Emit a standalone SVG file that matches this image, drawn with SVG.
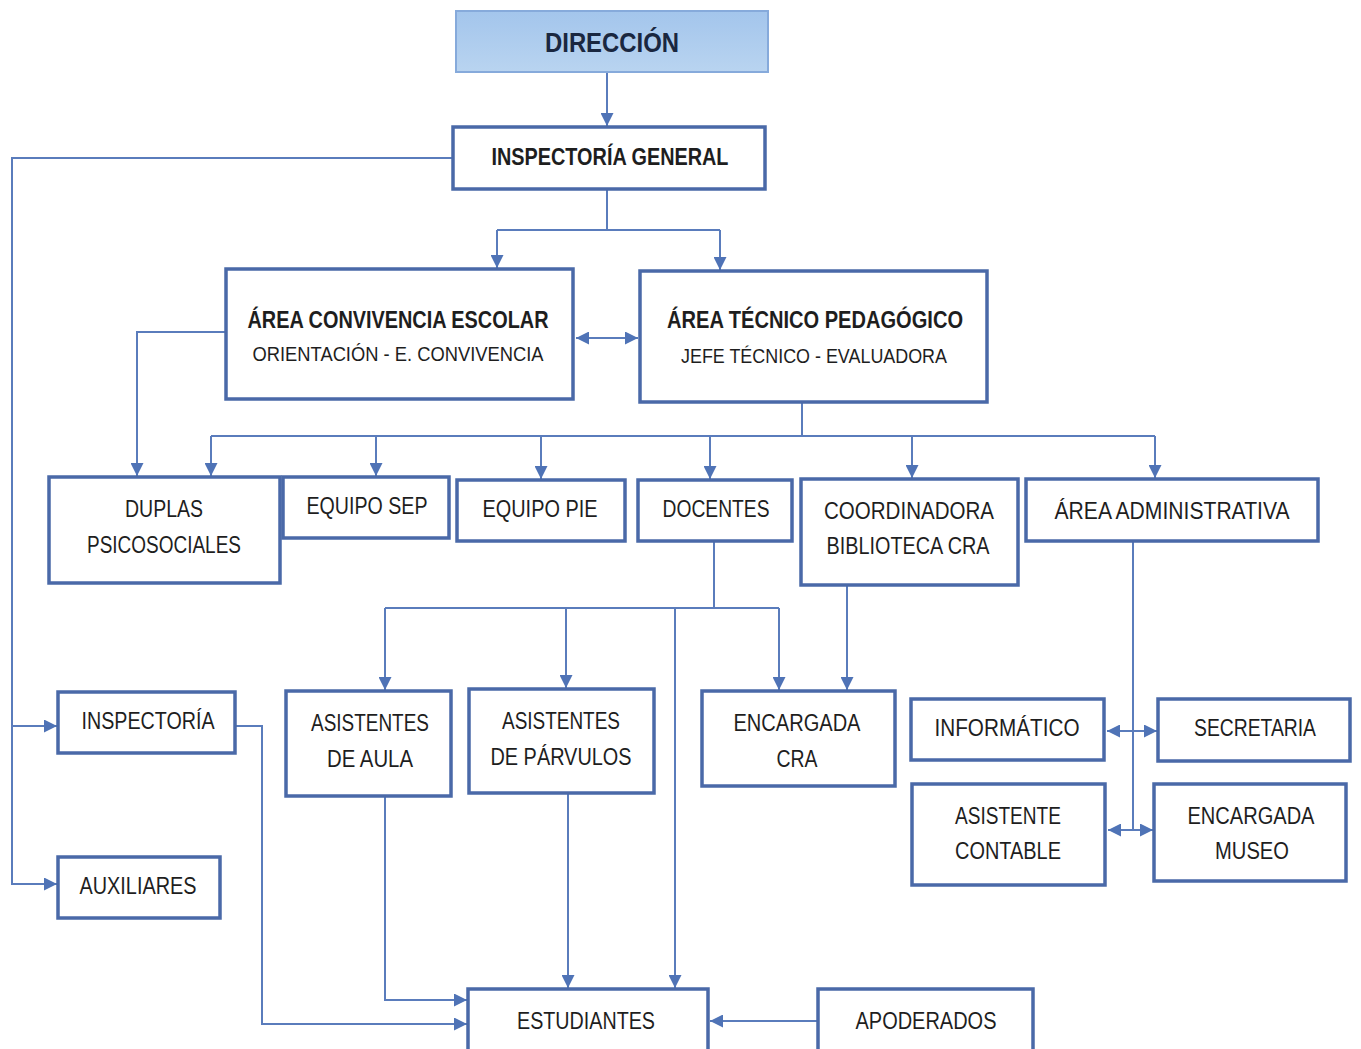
<svg xmlns="http://www.w3.org/2000/svg" width="1361" height="1049" viewBox="0 0 1361 1049">
<style>
.box{fill:#fff;stroke:#4a69a8;stroke-width:3.5}
.c{fill:none;stroke:#5a7cbc;stroke-width:2}
.t{font-family:"Liberation Sans Narrow","Liberation Sans",Arial,sans-serif;font-size:23px;fill:#1e1e1e;text-anchor:middle}
.b{font-weight:bold}
.s{font-size:20px}
</style>
<defs>
<linearGradient id="g" x1="0" y1="0" x2="0" y2="1"><stop offset="0" stop-color="#a3c5ec"/><stop offset="1" stop-color="#b9d4f0"/></linearGradient>
<marker id="a" viewBox="0 0 10 10" refX="10" refY="5" markerWidth="13" markerHeight="13" markerUnits="userSpaceOnUse" orient="auto-start-reverse"><path d="M0,0 L10,5 L0,10 z" fill="#4f73b6"/></marker>
</defs>
<rect width="1361" height="1049" fill="#fff"/>
<g id="connectors">
<path class="c" d="M607,72 V126" marker-end="url(#a)"/>
<path class="c" d="M453,158 H12 V884 H57" marker-end="url(#a)"/>
<path class="c" d="M12,726 H57" marker-end="url(#a)"/>
<path class="c" d="M607,189 V230 M497,230 H720"/>
<path class="c" d="M497,230 V268" marker-end="url(#a)"/>
<path class="c" d="M720,230 V270" marker-end="url(#a)"/>
<path class="c" d="M576,338 H638" marker-start="url(#a)" marker-end="url(#a)"/>
<path class="c" d="M226,332 H137 V476" marker-end="url(#a)"/>
<path class="c" d="M802,402 V436 M211,436 H1155"/>
<path class="c" d="M211,436 V476" marker-end="url(#a)"/>
<path class="c" d="M376,436 V476" marker-end="url(#a)"/>
<path class="c" d="M541,436 V479" marker-end="url(#a)"/>
<path class="c" d="M710,436 V479" marker-end="url(#a)"/>
<path class="c" d="M912,436 V478" marker-end="url(#a)"/>
<path class="c" d="M1155,436 V478" marker-end="url(#a)"/>
<path class="c" d="M714,541 V608 M385,608 H779"/>
<path class="c" d="M385,608 V690" marker-end="url(#a)"/>
<path class="c" d="M566,608 V688" marker-end="url(#a)"/>
<path class="c" d="M779,608 V690" marker-end="url(#a)"/>
<path class="c" d="M675,608 V988" marker-end="url(#a)"/>
<path class="c" d="M847,585 V690" marker-end="url(#a)"/>
<path class="c" d="M1133,541 V830"/>
<path class="c" d="M1107,731 H1157" marker-start="url(#a)" marker-end="url(#a)"/>
<path class="c" d="M1108,830 H1153" marker-start="url(#a)" marker-end="url(#a)"/>
<path class="c" d="M235,726 H262 V1024 H467" marker-end="url(#a)"/>
<path class="c" d="M385,796 V1000 H467" marker-end="url(#a)"/>
<path class="c" d="M568,793 V988" marker-end="url(#a)"/>
<path class="c" d="M818,1021 H710" marker-end="url(#a)"/>
</g>
<g id="direccion"><rect x="456" y="11" width="312" height="61" fill="url(#g)" stroke="#86aadb" stroke-width="2"/><text class="t b" x="612" y="52" style="font-size:27px;fill:#1a2740" textLength="134" lengthAdjust="spacingAndGlyphs">DIRECCIÓN</text></g>
<g id="inspectoria-general"><rect class="box" x="453" y="127" width="312" height="62"/><text class="t b" x="610" y="165" textLength="237" lengthAdjust="spacingAndGlyphs">INSPECTORÍA GENERAL</text></g>
<g id="area-convivencia"><rect class="box" x="226" y="269" width="347" height="130"/><text class="t b" x="398" y="328" textLength="301" lengthAdjust="spacingAndGlyphs">ÁREA CONVIVENCIA ESCOLAR</text><text class="t s" x="398" y="361" textLength="291" lengthAdjust="spacingAndGlyphs">ORIENTACIÓN - E. CONVIVENCIA</text></g>
<g id="area-tecnico"><rect class="box" x="640" y="271" width="347" height="131"/><text class="t b" x="815" y="328" textLength="296" lengthAdjust="spacingAndGlyphs">ÁREA TÉCNICO PEDAGÓGICO</text><text class="t s" x="814" y="363" textLength="266" lengthAdjust="spacingAndGlyphs">JEFE TÉCNICO - EVALUADORA</text></g>
<g id="duplas"><rect class="box" x="49" y="477" width="231" height="106"/><text class="t" x="164" y="517" textLength="78" lengthAdjust="spacingAndGlyphs">DUPLAS</text><text class="t" x="164" y="553" textLength="154" lengthAdjust="spacingAndGlyphs">PSICOSOCIALES</text></g>
<g id="equipo-sep"><rect class="box" x="283" y="477" width="166" height="61"/><text class="t" x="367" y="514" textLength="121" lengthAdjust="spacingAndGlyphs">EQUIPO SEP</text></g>
<g id="equipo-pie"><rect class="box" x="457" y="480" width="168" height="61"/><text class="t" x="540" y="517" textLength="115" lengthAdjust="spacingAndGlyphs">EQUIPO PIE</text></g>
<g id="docentes"><rect class="box" x="638" y="480" width="154" height="61"/><text class="t" x="716" y="517" textLength="107" lengthAdjust="spacingAndGlyphs">DOCENTES</text></g>
<g id="coordinadora"><rect class="box" x="801" y="479" width="217" height="106"/><text class="t" x="909" y="519" textLength="170" lengthAdjust="spacingAndGlyphs">COORDINADORA</text><text class="t" x="908" y="554" textLength="163" lengthAdjust="spacingAndGlyphs">BIBLIOTECA CRA</text></g>
<g id="area-administrativa"><rect class="box" x="1026" y="479" width="292" height="62"/><text class="t" x="1172" y="519" textLength="235" lengthAdjust="spacingAndGlyphs">ÁREA ADMINISTRATIVA</text></g>
<g id="inspectoria"><rect class="box" x="58" y="692" width="177" height="61"/><text class="t" x="148" y="729" textLength="133" lengthAdjust="spacingAndGlyphs">INSPECTORÍA</text></g>
<g id="auxiliares"><rect class="box" x="58" y="857" width="162" height="61"/><text class="t" x="138" y="894" textLength="117" lengthAdjust="spacingAndGlyphs">AUXILIARES</text></g>
<g id="asistentes-aula"><rect class="box" x="286" y="691" width="165" height="105"/><text class="t" x="370" y="731" textLength="118" lengthAdjust="spacingAndGlyphs">ASISTENTES</text><text class="t" x="370" y="767" textLength="86" lengthAdjust="spacingAndGlyphs">DE AULA</text></g>
<g id="asistentes-parvulos"><rect class="box" x="469" y="689" width="185" height="104"/><text class="t" x="561" y="729" textLength="118" lengthAdjust="spacingAndGlyphs">ASISTENTES</text><text class="t" x="561" y="765" textLength="141" lengthAdjust="spacingAndGlyphs">DE PÁRVULOS</text></g>
<g id="encargada-cra"><rect class="box" x="702" y="691" width="193" height="95"/><text class="t" x="797" y="731" textLength="127" lengthAdjust="spacingAndGlyphs">ENCARGADA</text><text class="t" x="797" y="767" textLength="41" lengthAdjust="spacingAndGlyphs">CRA</text></g>
<g id="informatico"><rect class="box" x="911" y="699" width="193" height="61"/><text class="t" x="1007" y="736" textLength="145" lengthAdjust="spacingAndGlyphs">INFORMÁTICO</text></g>
<g id="secretaria"><rect class="box" x="1158" y="699" width="192" height="62"/><text class="t" x="1255" y="736" textLength="122" lengthAdjust="spacingAndGlyphs">SECRETARIA</text></g>
<g id="asistente-contable"><rect class="box" x="912" y="784" width="193" height="101"/><text class="t" x="1008" y="824" textLength="106" lengthAdjust="spacingAndGlyphs">ASISTENTE</text><text class="t" x="1008" y="859" textLength="106" lengthAdjust="spacingAndGlyphs">CONTABLE</text></g>
<g id="encargada-museo"><rect class="box" x="1154" y="784" width="192" height="97"/><text class="t" x="1251" y="824" textLength="127" lengthAdjust="spacingAndGlyphs">ENCARGADA</text><text class="t" x="1252" y="859" textLength="74" lengthAdjust="spacingAndGlyphs">MUSEO</text></g>
<g id="estudiantes"><rect class="box" x="468" y="989" width="240" height="70"/><text class="t" x="586" y="1029" textLength="138" lengthAdjust="spacingAndGlyphs">ESTUDIANTES</text></g>
<g id="apoderados"><rect class="box" x="818" y="989" width="215" height="70"/><text class="t" x="926" y="1029" textLength="141" lengthAdjust="spacingAndGlyphs">APODERADOS</text></g>
</svg>
